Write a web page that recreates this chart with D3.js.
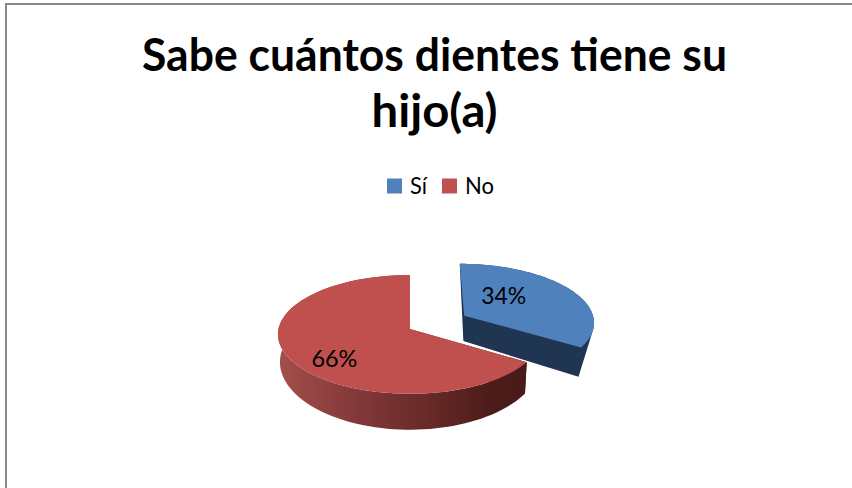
<!DOCTYPE html>
<html>
<head>
<meta charset="utf-8">
<script src="https://cdn.jsdelivr.net/npm/d3@7"></script>
<style>
html, body { margin: 0; padding: 0; background: #fff; }
svg { display: block; }
text { font-family: Lato, "Noto Sans", sans-serif; fill: #000; }
</style>
</head>
<body>
<svg id="chart" width="852" height="488"></svg>
<script>
// Chart content
const titleLines = ["Sabe cuántos dientes tiene su", "hijo(a)"];
const categories = ["Sí", "No"];
const shares = [34, 66];
const explodeFractions = [0.48, 0];
const topColors = ["#4f81bd", "#c0504d"];
const sideColors = ["#1f3552", "url(#redSide)"];

const width = 852, height = 488;
const svg = d3.select("#chart");

// Perspective projection of the pie plane: x to the right, y pointing away from the viewer
const apexX = 410, apexY = 329;
const radiusX = 131.5, radiusY = 58.9, perspective = 0.0909;
const depthBase = 27, bottomConverge = 0.985;

function project(px, py) {
  const s = 1 / (1 + perspective * py);
  return { x: apexX + radiusX * px * s, y: apexY - radiusY * py * s, s };
}
function projectBottom(px, py) {
  const p = project(px, py);
  return {
    x: apexX + (p.x - apexX) * bottomConverge,
    y: p.y + depthBase * Math.pow(p.s, 3)
  };
}

const arcs = d3.pie().sort(null).value(d => d)(shares);
const line = d3.line().x(d => d.x).y(d => d.y);

// Plane coordinates of a slice: its apex and its rim samples
const slices = arcs.map((a, i) => {
  const mid = (a.startAngle + a.endAngle) / 2;
  const ox = explodeFractions[i] * Math.sin(mid);
  const oy = explodeFractions[i] * Math.cos(mid);
  const angle = d3.scaleLinear().domain([0, 96]).range([a.startAngle, a.endAngle]);
  const rim = d3.range(97).map(k => [ox + Math.sin(angle(k)), oy + Math.cos(angle(k))]);
  return { i, ox, oy, rim };
});

// Gradient on the curved wall of the larger slice
const redXs = slices[1].rim.map(p => project(p[0], p[1]).x);
const defs = svg.append("defs");
const grad = defs.append("linearGradient")
  .attr("id", "redSide")
  .attr("gradientUnits", "userSpaceOnUse")
  .attr("x1", d3.min(redXs)).attr("x2", d3.max(redXs))
  .attr("y1", 0).attr("y2", 0);
[[0, "#a44f4b"], [0.3, "#84393a"], [0.6, "#682a28"], [0.85, "#4c1c1a"], [1, "#481a18"]]
  .forEach(([o, c]) => grad.append("stop").attr("offset", o).attr("stop-color", c));

// Frame: only the top and left rules fall inside the page
svg.append("rect").attr("width", width).attr("height", height).attr("fill", "#fff");
svg.append("path")
  .attr("d", `M6,${height}V4H${width}`)
  .attr("fill", "none").attr("stroke", "#878787").attr("stroke-width", 2);

// Title
const titleBaselines = [71, 127];
const titleWidths = [585, 126];
svg.selectAll("text.title").data(titleLines).join("text")
  .attr("class", "title")
  .attr("x", 434.5)
  .attr("y", (d, i) => titleBaselines[i])
  .attr("text-anchor", "middle")
  .attr("font-size", 46)
  .attr("font-weight", 700)
  .attr("textLength", (d, i) => titleWidths[i])
  .attr("lengthAdjust", "spacingAndGlyphs")
  .text(d => d);

// Legend
const legendSwatchX = [387, 442];
const legendTextX = [410, 465];
const legendTextW = [17, 29];
svg.selectAll("rect.swatch").data(categories).join("rect")
  .attr("class", "swatch")
  .attr("x", (d, i) => legendSwatchX[i]).attr("y", 178.5)
  .attr("width", 15).attr("height", 15)
  .attr("fill", (d, i) => topColors[i]);
svg.selectAll("text.legend").data(categories).join("text")
  .attr("class", "legend")
  .attr("x", (d, i) => legendTextX[i]).attr("y", 193.5)
  .attr("font-size", 23)
  .attr("textLength", (d, i) => legendTextW[i])
  .attr("lengthAdjust", "spacingAndGlyphs")
  .attr("fill", "#111")
  .text(d => d);

// Extruded walls, drawn before the top faces
function extrude(points, fill) {
  const top = points.map(p => project(p[0], p[1]));
  const bottom = points.map(p => projectBottom(p[0], p[1])).reverse();
  svg.append("path")
    .attr("d", line(top.concat(bottom)) + "Z")
    .attr("fill", fill);
}
slices.forEach(s => {
  const fill = sideColors[s.i];
  const last = s.rim[s.rim.length - 1];
  if (explodeFractions[s.i] > 0) {
    // The pulled-out slice shows its cut face and a straight sliver of outer wall
    const pts = s.rim.map(p => project(p[0], p[1]))
      .concat([project(s.ox, s.oy), projectBottom(s.ox, s.oy), projectBottom(last[0], last[1])]);
    const hull = d3.polygonHull(pts.map(p => [p.x, p.y]));
    svg.append("path").attr("d", "M" + hull.join("L") + "Z").attr("fill", fill);
  } else {
    extrude(s.rim, fill);
    extrude([[s.ox, s.oy], last], fill);
    extrude([[s.ox, s.oy], s.rim[0]], fill);
  }
});

// Top faces
slices.forEach(s => {
  const pts = [[s.ox, s.oy]].concat(s.rim).map(p => project(p[0], p[1]));
  svg.append("path")
    .attr("d", line(pts) + "Z")
    .attr("fill", topColors[s.i]);
});

// Percentage labels, placed in plane coordinates relative to each slice apex
const labelPlane = [[0.33, 0.36], [-0.55, -0.48]];
const labelWidths = [45, 46];
slices.forEach(s => {
  const p = project(s.ox + labelPlane[s.i][0], s.oy + labelPlane[s.i][1]);
  svg.append("text")
    .attr("x", p.x).attr("y", p.y + 8.5)
    .attr("text-anchor", "middle")
    .attr("font-size", 24)
    .attr("textLength", labelWidths[s.i])
    .attr("lengthAdjust", "spacingAndGlyphs")
    .attr("fill", "#111")
    .text(shares[s.i] + "%");
});
</script>
</body>
</html>
